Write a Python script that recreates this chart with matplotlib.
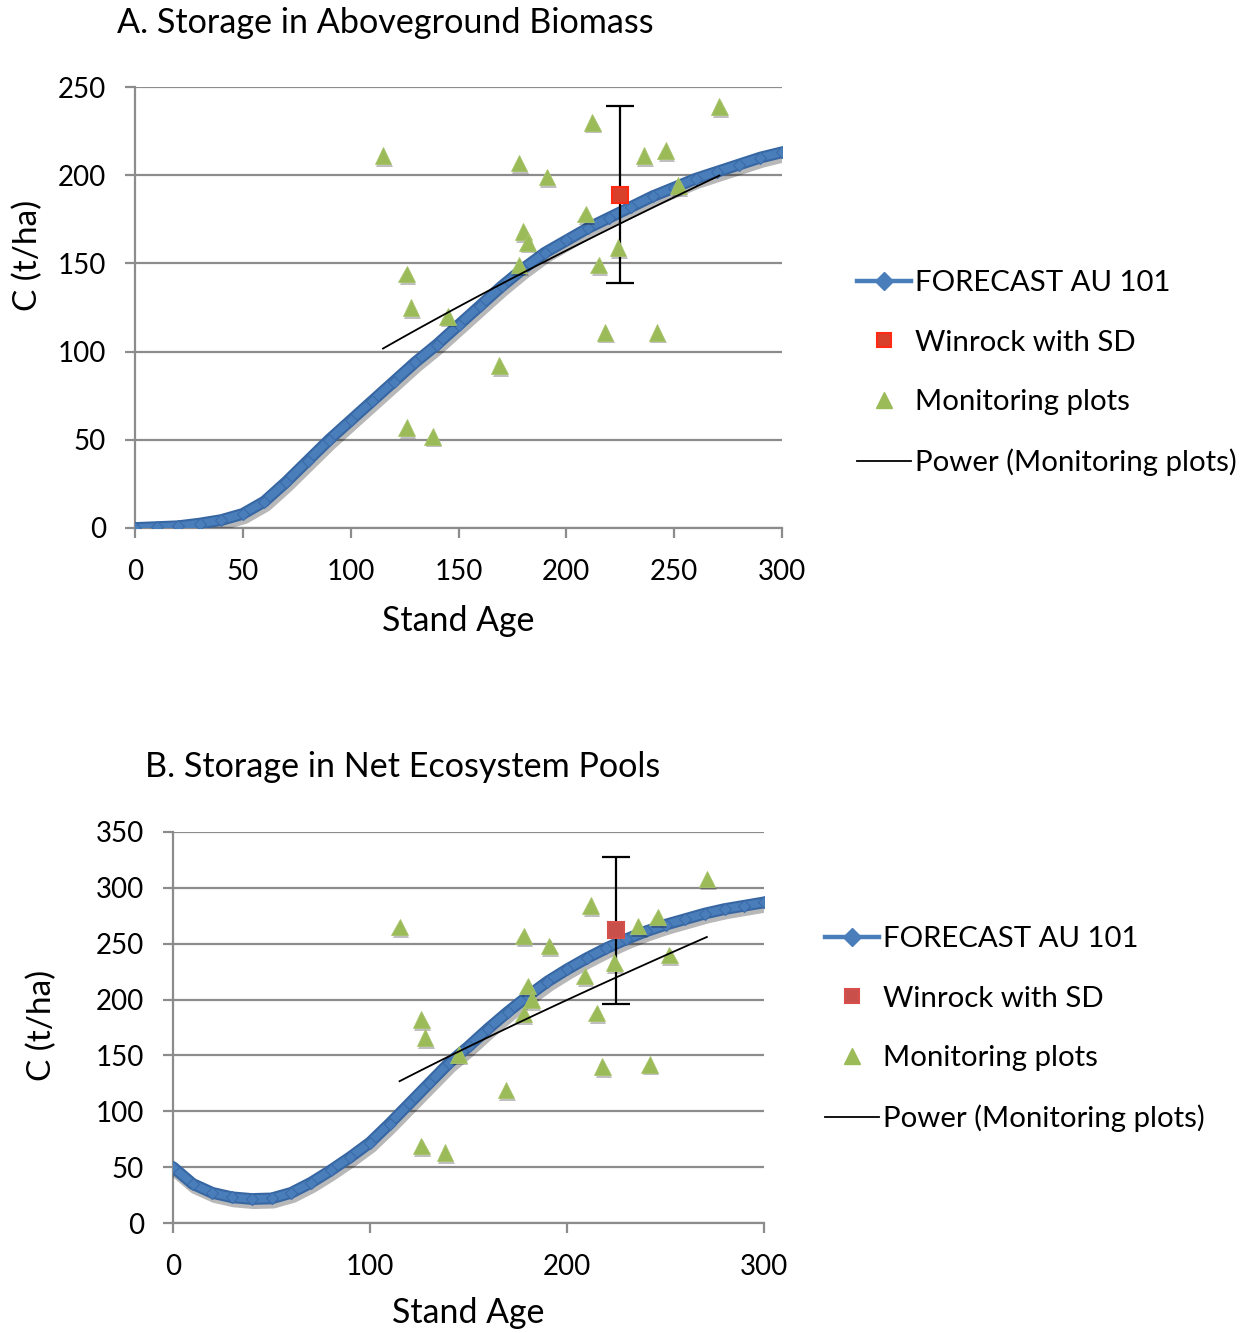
import numpy as np
import matplotlib
matplotlib.use("Agg")
from matplotlib import pyplot as plt
from matplotlib.lines import Line2D
import matplotlib.patheffects as pe

plt.rcParams['font.family'] = ['Lato', 'DejaVu Sans']

# forecast curves, read every 10 years
forecast_age = np.arange(0, 310, 10)
agb_forecast = [0, 0.5, 1, 2.5, 4.5, 8, 15, 26, 38, 50, 61, 72, 83, 94, 104, 115,
                126, 137, 147, 156, 163, 170, 176, 182, 188, 193, 198, 202, 206, 210, 213]
nep_forecast = [50, 35, 27, 23, 21.5, 22, 27, 36, 47, 59, 72, 89, 107, 125, 143, 158,
                174, 189, 203, 216, 227, 237, 246, 254, 261, 267, 272, 277, 281, 284, 287]

# monitoring plots
plot_age = [115, 126, 128, 126, 138, 145, 169, 178, 180, 182, 178,
            191, 209, 212, 215, 218, 224, 236, 242, 246, 252, 271]
agb_plots = [211, 144, 125, 57, 52, 120, 92, 207, 168, 162, 149,
             199, 178, 230, 149, 111, 159, 211, 111, 214, 194, 239]
nep_plots = [265, 182, 166, 69, 63, 151, 119, 257, 212, 200, 187,
             248, 221, 284, 188, 140, 233, 266, 142, 274, 240, 308]

# Winrock mean with SD
winrock_age = 225
agb_winrock, agb_sd = 189, 50
nep_winrock, nep_sd = 262, 66

GRID = '#8c8c8c'
BLUE = '#4a7ebb'
GREEN = '#9bbb59'

fig = plt.figure(figsize=(12.48, 13.33), dpi=100)
W, H = 1248.0, 1333.0


def panel(rect, title, forecast, plots, win, sd, ymax, xstep, sq_face, sq_edge,
          title_xy, ylab_xy, xlab_xy, leg_xy):
    l, t, r, b = rect
    ax = fig.add_axes([l / W, 1 - b / H, (r - l) / W, (b - t) / H])

    shadow = [pe.SimpleLineShadow(offset=(1.5, -3), shadow_color='black', alpha=0.28),
              pe.Normal()]
    ax.plot(forecast_age, forecast, color='#3767a3', lw=8.5, solid_capstyle='round',
            zorder=3, path_effects=shadow)
    ax.plot(forecast_age, forecast, color=BLUE, lw=5.5, marker='D', ms=6.5,
            mfc=BLUE, mec='#3a6ba8', mew=0.8, zorder=4)

    ax.errorbar([winrock_age], [win], yerr=[sd], fmt='none', ecolor='black',
                elinewidth=1.6, capsize=10, capthick=1.6, zorder=5)
    ax.plot([winrock_age], [win], ls='none', marker='s', ms=11.5, mfc=sq_face,
            mec=sq_edge, mew=1.5, zorder=6)

    tri_shadow = [pe.SimplePatchShadow(offset=(1, -2), shadow_rgbFace='black', alpha=0.25),
                  pe.Normal()]
    ax.plot(plot_age, plots, ls='none', marker='^', ms=12, mfc=GREEN, mec='#a8c46c',
            mew=0.6, zorder=5, path_effects=tri_shadow)

    # power trendline fitted to monitoring plots
    coef = np.polyfit(np.log(plot_age), np.log(plots), 1)
    xt = np.linspace(min(plot_age), max(plot_age), 100)
    ax.plot(xt, np.exp(coef[1]) * xt ** coef[0], color='black', lw=1.3, zorder=6)

    ax.set_xlim(0, 300)
    ax.set_ylim(0, ymax)
    ax.set_xticks(np.arange(0, 301, xstep))
    ax.set_yticks(np.arange(0, ymax + 1, 50))
    ax.yaxis.grid(True, color=GRID, lw=1.6)
    ax.set_axisbelow(True)
    for s in ['top', 'right']:
        ax.spines[s].set_visible(False)
    for s in ['left', 'bottom']:
        ax.spines[s].set_color(GRID)
        ax.spines[s].set_linewidth(1.6)
    ax.tick_params(axis='both', length=7, width=1.6, color=GRID, labelsize=20,
                   direction='out')
    ax.tick_params(axis='x', pad=15)
    ax.tick_params(axis='y', pad=14)

    fig.text(title_xy[0] / W, 1 - title_xy[1] / H, title, fontsize=24.6,
             ha='left', va='center')
    fig.text(ylab_xy[0] / W, 1 - ylab_xy[1] / H, 'C (t/ha)', fontsize=24,
             ha='center', va='center', rotation=90)
    fig.text(xlab_xy[0] / W, 1 - xlab_xy[1] / H, 'Stand Age', fontsize=24.4,
             ha='center', va='center')

    handles = [
        Line2D([], [], color=BLUE, lw=3.2, marker='D', ms=9, mfc=BLUE, mec=BLUE),
        Line2D([], [], ls='none', marker='s', ms=10, mfc=sq_face, mec=sq_edge, mew=1.5),
        Line2D([], [], ls='none', marker='^', ms=11, mfc=GREEN, mec=GREEN),
        Line2D([], [], color='black', lw=1.3),
    ]
    labels = ['FORECAST AU 101', 'Winrock with SD', 'Monitoring plots',
              'Power (Monitoring plots)']
    fig.legend(handles, labels, loc='upper left',
               bbox_to_anchor=(leg_xy[0] / W, 1 - leg_xy[1] / H), frameon=False,
               fontsize=21.2, handlelength=1.82, handletextpad=0.15, labelspacing=1.14,
               borderpad=0, borderaxespad=0)
    return ax


ax1 = panel((135, 87, 782, 528), 'A. Storage in Aboveground Biomass', agb_forecast,
            agb_plots, agb_winrock, agb_sd, 250, 50, '#d8402c', '#ff2a12',
            (117, 23), (28, 255), (458, 621), (857, 270))
ax2 = panel((173, 832, 764, 1223), 'B. Storage in Net Ecosystem Pools', nep_forecast,
            nep_plots, nep_winrock, nep_sd, 350, 100, '#c9504a', '#d5504a',
            (145, 767), (42, 1025), (468, 1313), (825, 926))

fig.savefig('out.png', dpi=100)
